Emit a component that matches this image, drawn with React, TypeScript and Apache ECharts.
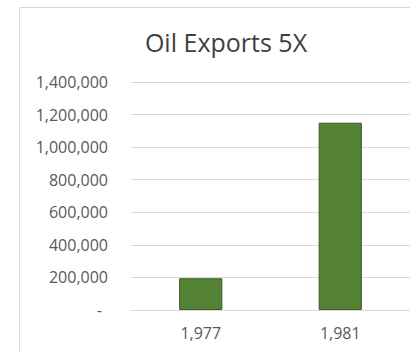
import React, { useEffect, useRef } from "react";
import * as echarts from "echarts";

const categories: number[] = [1977, 1981];
const exportValues: number[] = [195000, 1150000];
const yTicks = { min: 0, max: 1400000, interval: 200000 };
const titleText = "Oil Exports 5X";

const fmt = (v: number) => String(v).replace(/\B(?=(\d{3})+(?!\d))/g, ",");

export default function App() {
  const ref = useRef<HTMLDivElement>(null);
  useEffect(() => {
    if (!ref.current) return;
    const chart = echarts.init(ref.current, null, { renderer: "svg" });
    chart.setOption({
      animation: false,
      backgroundColor: "#ffffff",
      graphic: [
        {
          type: "rect",
          shape: { x: 19.5, y: 7.5, width: 420, height: 400 },
          style: { fill: "none", stroke: "#d9d9d9", lineWidth: 1 },
          silent: true,
        },
        {
          type: "text",
          x: 226,
          y: 41.5,
          style: {
            text: titleText,
            textAlign: "center",
            textVerticalAlign: "middle",
            fontFamily: "Open Sans",
            fontSize: 25,
            fill: "#404040",
          },
          silent: true,
        },
      ],
      grid: { left: 131, right: 0, top: 82, bottom: 42, containLabel: false },
      xAxis: {
        type: "category",
        data: categories.map((c) => fmt(c)),
        axisLine: { show: true, lineStyle: { color: "#d9d9d9", width: 1 } },
        axisTick: { show: false },
        axisLabel: {
          color: "#595959",
          fontFamily: "Open Sans",
          fontSize: 16,
          margin: 15,
        },
      },
      yAxis: {
        type: "value",
        min: yTicks.min,
        max: yTicks.max,
        interval: yTicks.interval,
        axisLine: { show: false },
        axisTick: { show: false },
        splitLine: { lineStyle: { color: "#d9d9d9", width: 1 } },
        axisLabel: {
          color: "#595959",
          fontFamily: "Open Sans",
          fontSize: 16,
          margin: 23,
          formatter: (v: number) => (v === 0 ? "{z|-}" : fmt(v)),
          rich: {
            z: { padding: [0, 6, 0, 0], color: "#595959", fontFamily: "Open Sans", fontSize: 16 },
          },
        },
      },
      series: [
        {
          type: "bar",
          data: exportValues,
          barWidth: "31%",
          itemStyle: {
            color: "#548235",
            borderColor: "#3b5e25",
            borderWidth: 1,
          },
        },
      ],
    });
    return () => chart.dispose();
  }, []);
  return (
    <div
      ref={ref}
      style={{ position: "absolute", left: 0, top: 0, width: 410, height: 352 }}
    />
  );
}
